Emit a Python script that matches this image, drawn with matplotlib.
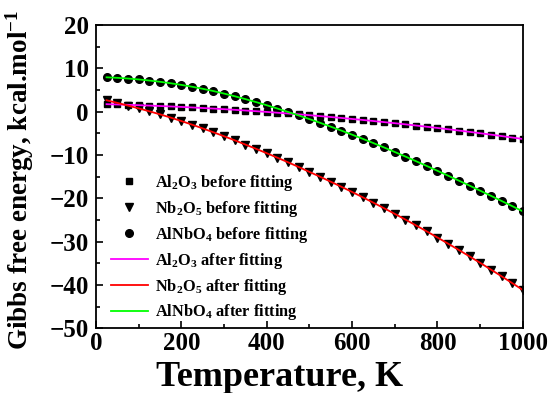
import numpy as np
import matplotlib
matplotlib.use('Agg')
import matplotlib.pyplot as plt
from matplotlib.ticker import MultipleLocator

plt.rcParams['font.family'] = 'Liberation Serif'
plt.rcParams['font.weight'] = 'bold'
plt.rcParams['mathtext.fontset'] = 'custom'
plt.rcParams['mathtext.rm'] = 'Liberation Serif:bold'
plt.rcParams['mathtext.bf'] = 'Liberation Serif:bold'
plt.rcParams['mathtext.default'] = 'bf'

# temperature points, K
T = [25, 50, 75, 100, 125, 150, 175, 200, 225, 250,
     275, 300, 325, 350, 375, 400, 425, 450, 475, 500,
     525, 550, 575, 600, 625, 650, 675, 700, 725, 750,
     775, 800, 825, 850, 875, 900, 925, 950, 975, 1000]

# Gibbs free energy, kcal/mol
al2o3 = [1.74, 1.67, 1.59, 1.51, 1.42, 1.32, 1.22, 1.11, 0.99, 0.86,
         0.73, 0.59, 0.44, 0.28, 0.12, -0.05, -0.23, -0.41, -0.60, -0.80,
         -1.01, -1.22, -1.44, -1.67, -1.90, -2.15, -2.40, -2.65, -2.92, -3.19,
         -3.47, -3.75, -4.05, -4.35, -4.65, -4.97, -5.29, -5.62, -5.96, -6.30]

nb2o5 = [2.65, 2.05, 1.42, 0.78, 0.10, -0.60, -1.35, -2.15, -2.98, -3.85,
         -4.74, -5.66, -6.60, -7.58, -8.57, -9.58, -10.62, -11.68, -12.77, -13.90,
         -15.02, -16.17, -17.34, -18.54, -19.77, -21.02, -22.30, -23.60, -24.92, -26.28,
         -27.65, -29.06, -30.49, -31.94, -33.42, -34.92, -36.46, -38.01, -39.59, -41.20]

alnbo4 = [7.95, 7.83, 7.67, 7.46, 7.21, 6.92, 6.58, 6.20, 5.78, 5.30,
          4.78, 4.20, 3.58, 2.92, 2.23, 1.50, 0.74, -0.05, -0.86, -1.70,
          -2.56, -3.45, -4.36, -5.30, -6.26, -7.25, -8.26, -9.30, -10.36, -11.44,
          -12.54, -13.65, -14.78, -15.92, -17.07, -18.24, -19.42, -20.61, -21.81, -23.03]

fig = plt.figure(figsize=(5.51, 3.93), dpi=100, facecolor='white')
ax = fig.add_axes([0.174, 0.165, 0.775, 0.771])

ax.plot(T, al2o3, 's', color='black', markersize=4.5, label='Al$_2$O$_3$ before fitting')
ax.plot(T, nb2o5, 'v', color='black', markersize=5.5, label='Nb$_2$O$_5$ before fitting')
ax.plot(T, alnbo4, 'o', color='black', markersize=5.5, label='AlNbO$_4$ before fitting')
ax.plot(T, al2o3, '-', color='#ff00ff', linewidth=1.3, label='Al$_2$O$_3$ after fitting')
ax.plot(T, nb2o5, '-', color='#ff0000', linewidth=1.3, label='Nb$_2$O$_5$ after fitting')
ax.plot(T, alnbo4, '-', color='#00ff00', linewidth=1.3, label='AlNbO$_4$ after fitting')

ax.set_xlim(0, 1000)
ax.set_ylim(-50, 20)
ax.xaxis.set_major_locator(MultipleLocator(200))
ax.xaxis.set_minor_locator(MultipleLocator(100))
ax.yaxis.set_major_locator(MultipleLocator(10))
ax.yaxis.set_minor_locator(MultipleLocator(5))
ax.tick_params(which='both', direction='in', top=False, right=False, labelsize=18, width=1.2)
ax.tick_params(which='major', length=5)
ax.tick_params(which='minor', length=3)
ax.tick_params(axis='y', pad=5)
ax.tick_params(axis='x', pad=3)
for s in ax.spines.values():
    s.set_linewidth(1.3)

ax.set_xlabel('Temperature, K', fontsize=26, fontweight='bold')
ax.xaxis.set_label_coords(0.43, -0.11)
ax.set_ylabel('Gibbs free energy, kcal.mol$^{-1}$', fontsize=19.5, fontweight='bold')
ax.yaxis.set_label_coords(-0.14, 0.49)

ax.legend(loc='lower left', frameon=False, fontsize=11.8, handlelength=2.3,
          handletextpad=0.4, labelspacing=0.36, bbox_to_anchor=(0.0, -0.03),
          borderaxespad=0.5)

fig.savefig('out.png', dpi=100)
